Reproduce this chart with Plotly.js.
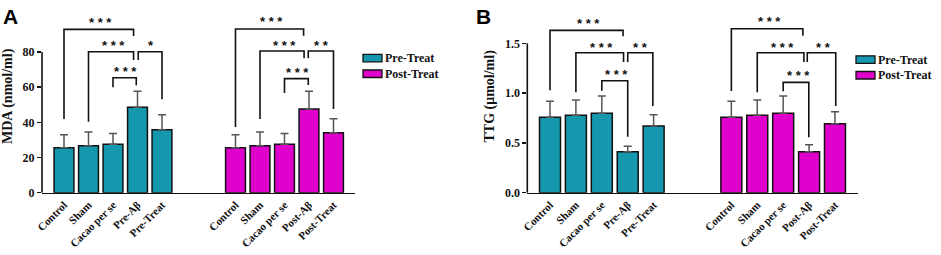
<!DOCTYPE html>
<html>
<head>
<meta charset="utf-8">
<script src="https://cdn.plot.ly/plotly-3.0.1.min.js"></script>
<style>html,body{margin:0;padding:0;background:#fff;}#chart{width:941px;height:255px;}</style>
</head>
<body>
<div id="chart"></div>
<script>
// ---- data ----
const preLabels = ["Control", "Sham", "Cacao per se", "Pre-Aβ", "Pre-Treat"];
const postLabels = ["Control", "Sham", "Cacao per se", "Post-Aβ", "Post-Treat"];
const seriesNames = ["Pre-Treat", "Post-Treat"];

const mdaPre = [25.6, 26.7, 27.6, 48.6, 35.8];
const mdaPreErr = [7.4, 7.8, 6.1, 9.1, 8.5];
const mdaPost = [25.6, 26.7, 27.6, 47.5, 34.1];
const mdaPostErr = [7.4, 7.8, 6.1, 10.1, 7.9];

const ttgPre = [0.757, 0.777, 0.797, 0.412, 0.670];
const ttgPreErr = [0.161, 0.154, 0.174, 0.054, 0.113];
const ttgPost = [0.757, 0.777, 0.797, 0.412, 0.693];
const ttgPostErr = [0.161, 0.154, 0.174, 0.070, 0.120];

const mdaTicks = [0, 20, 40, 60, 80];
const ttgTicks = [0, 0.5, 1.0, 1.5];
const ttgTickText = ["0.0", "0.5", "1.0", "1.5"];

// significance comparisons: [group a, group b, label]
const sigMdaPre = [["Control", "Pre-Aβ", "***"], ["Sham", "Pre-Aβ", "***"], ["Pre-Aβ", "Pre-Treat", "*"], ["Cacao per se", "Pre-Aβ", "***"]];
const sigMdaPost = [["Control", "Post-Aβ", "***"], ["Sham", "Post-Aβ", "***"], ["Post-Aβ", "Post-Treat", "**"], ["Cacao per se", "Post-Aβ", "***"]];
const sigTtgPre = [["Control", "Pre-Aβ", "***"], ["Sham", "Pre-Aβ", "***"], ["Pre-Aβ", "Pre-Treat", "**"], ["Cacao per se", "Pre-Aβ", "***"]];
const sigTtgPost = [["Control", "Post-Aβ", "***"], ["Sham", "Post-Aβ", "***"], ["Post-Aβ", "Post-Treat", "**"], ["Cacao per se", "Post-Aβ", "***"]];

// ---- styling / layout ----
const TEAL = "#1597ae";
const MAGENTA = "#e000cb";
const SERIF = "Liberation Serif, Times New Roman, serif";
const W = 941, H = 255;
const preX = preLabels.map((_, i) => i);
const postX = postLabels.map((_, i) => i + 7);

function bars(xs, ys, errs, color, name, xa, ya) {
  return {
    type: "bar", x: xs, y: ys, name: name, xaxis: xa, yaxis: ya, width: 0.81,
    marker: {color: color, line: {color: "#111", width: 1.5}},
    error_y: {type: "data", symmetric: false, array: errs, arrayminus: errs.map(() => 0),
              color: "#555", thickness: 1.5, width: 4},
    showlegend: false, hoverinfo: "x+y"
  };
}

const data = [
  bars(preX, mdaPre, mdaPreErr, TEAL, seriesNames[0], "x", "y"),
  bars(postX, mdaPost, mdaPostErr, MAGENTA, seriesNames[1], "x", "y"),
  bars(preX, ttgPre, ttgPreErr, TEAL, seriesNames[0], "x2", "y2"),
  bars(postX, ttgPost, ttgPostErr, MAGENTA, seriesNames[1], "x2", "y2")
];

const shapes = [];
const annotations = [];

// bracket geometry per comparison (in axis units): [x offset a, x offset b, level, leg a bottom, leg b bottom, label x, label y]
function addBrackets(comps, labels, offset, xa, ya, geo) {
  comps.forEach((c, k) => {
    const g = geo[k];
    const xa0 = labels.indexOf(c[0]) + offset + g[0];
    const xb0 = labels.indexOf(c[1]) + offset + g[1];
    shapes.push({type: "path", xref: xa, yref: ya,
      path: `M${xa0},${g[3]} L${xa0},${g[2]} L${xb0},${g[2]} L${xb0},${g[4]}`,
      line: {color: "#111", width: 1.6}});
    annotations.push({xref: xa, yref: ya, x: labels.indexOf(c[0]) + offset + g[5], y: g[6],
      text: c[2].split("").join(" "), showarrow: false, yanchor: "middle",
      font: {family: "Liberation Sans, Arial, sans-serif", size: 13, color: "#111", weight: "bold"}});
  });
}
addBrackets(sigMdaPre, preLabels, 0, "x", "y", [
  [0, -0.16, 92.8, 41.9, 89.0, 1.50, 97.0],
  [0, -0.16, 80.1, 40.3, 75.4, 1.01, 83.7],
  [0.03, 0, 80.1, 75.4, 53.1, 0.55, 83.7],
  [0, -0.05, 65.3, 59.9, 61.0, 0.53, 68.9]]);
addBrackets(sigMdaPost, postLabels, 7, "x", "y", [
  [0, -0.22, 93.0, 37.3, 89.2, 1.45, 97.3],
  [0, -0.20, 80.5, 41.9, 76.4, 0.98, 83.9],
  [-0.03, 0, 80.5, 76.4, 47.6, 0.53, 83.9],
  [0, -0.03, 64.8, 56.6, 61.2, 0.55, 68.4]]);
addBrackets(sigTtgPre, preLabels, 0, "x2", "y2", [
  [0, -0.18, 1.63, 1.028, 1.57, 1.48, 1.70],
  [0, -0.16, 1.406, 1.008, 1.312, 0.98, 1.46],
  [0, -0.03, 1.406, 1.312, 0.87, 0.51, 1.46],
  [0, 0, 1.124, 1.024, 0.562, 0.58, 1.185]]);
addBrackets(sigTtgPost, postLabels, 7, "x2", "y2", [
  [0, -0.24, 1.647, 1.021, 1.576, 1.46, 1.715],
  [0, -0.20, 1.406, 1.008, 1.312, 0.96, 1.463],
  [-0.07, 0.03, 1.406, 1.312, 0.87, 0.55, 1.463],
  [0, -0.01, 1.108, 1.018, 0.556, 0.58, 1.172]]);

// y-axis lines limited to tick range
shapes.push({type: "line", xref: "x domain", yref: "y", x0: 0, x1: 0, y0: 0, y1: 80, line: {color: "#111", width: 1.6}});
shapes.push({type: "line", xref: "x2 domain", yref: "y2", x0: 0, x1: 0, y0: 0, y1: 1.5, line: {color: "#111", width: 1.6}});

// legends (custom swatches)
function legend(xLeft, yTops) {
  seriesNames.forEach((n, i) => {
    const col = i === 0 ? TEAL : MAGENTA;
    shapes.push({type: "rect", xref: "paper", yref: "paper",
      x0: xLeft / W, x1: (xLeft + 19) / W, y0: 1 - (yTops[i] + 7.5) / H, y1: 1 - yTops[i] / H,
      fillcolor: col, line: {color: "#111", width: 1.3}});
    annotations.push({xref: "paper", yref: "paper", x: (xLeft + 20) / W, y: 1 - (yTops[i] + 3.8) / H,
      xanchor: "left", yanchor: "middle", showarrow: false, text: n,
      font: {family: SERIF, size: 12, color: "#111", weight: "bold"}});
  });
}
legend(363, [54.3, 70]);
legend(856, [55.8, 71.5]);

// panel letters
annotations.push({xref: "paper", yref: "paper", x: 1 / W, y: 1 - 3 / H, xanchor: "left", yanchor: "top",
  showarrow: false, text: "A", font: {family: "Liberation Sans, Arial", size: 21, color: "#000", weight: "bold"}});
annotations.push({xref: "paper", yref: "paper", x: 474 / W, y: 1 - 3 / H, xanchor: "left", yanchor: "top",
  showarrow: false, text: "B", font: {family: "Liberation Sans, Arial", size: 21, color: "#000", weight: "bold"}});

const xTickText = preLabels.concat(postLabels);
const xTickVals = preX.concat(postX);
const yBottom = 192.7;

function xAxis(x0, x1, rng) {
  return {domain: [x0 / W, x1 / W], range: rng, showgrid: false, zeroline: false,
    showline: true, linecolor: "#111", linewidth: 1.6, ticks: "",
    tickmode: "array", tickvals: xTickVals, ticktext: xTickText, tickangle: -45,
    tickfont: {family: SERIF, size: 11, color: "#111", weight: "bold"}, fixedrange: true};
}
function yAxis(anchor, rng, tv, tt, title) {
  return {anchor: anchor, domain: [1 - yBottom / H, 1], range: rng, showgrid: false, zeroline: false,
    showline: false, ticks: "outside", ticklen: 4, tickwidth: 1.5, tickcolor: "#111",
    tickmode: "array", tickvals: tv, ticktext: tt,
    tickfont: {family: SERIF, size: 12, color: "#111", weight: "bold"},
    title: {text: title, standoff: 6, font: {family: SERIF, size: 14, color: "#111", weight: "bold"}},
    fixedrange: true};
}

const layout = {
  width: W, height: H, margin: {l: 0, r: 0, t: 0, b: 0},
  paper_bgcolor: "#fff", plot_bgcolor: "rgba(0,0,0,0)",
  showlegend: false, barmode: "overlay",
  xaxis: xAxis(42, 355, [-0.898, 11.878]),
  yaxis: yAxis("x", [0, 109.5], mdaTicks, mdaTicks.map(String), "MDA (nmol/ml)"),
  xaxis2: Object.assign(xAxis(527.3, 858.3, [-0.876, 11.90]), {anchor: "y2"}),
  yaxis2: yAxis("x2", [0, 1.935], ttgTicks, ttgTickText, "TTG (μmol/ml)"),
  shapes: shapes, annotations: annotations
};
layout.xaxis.anchor = "y";

Plotly.newPlot("chart", data, layout, {staticPlot: true, displayModeBar: false});
</script>
</body>
</html>
